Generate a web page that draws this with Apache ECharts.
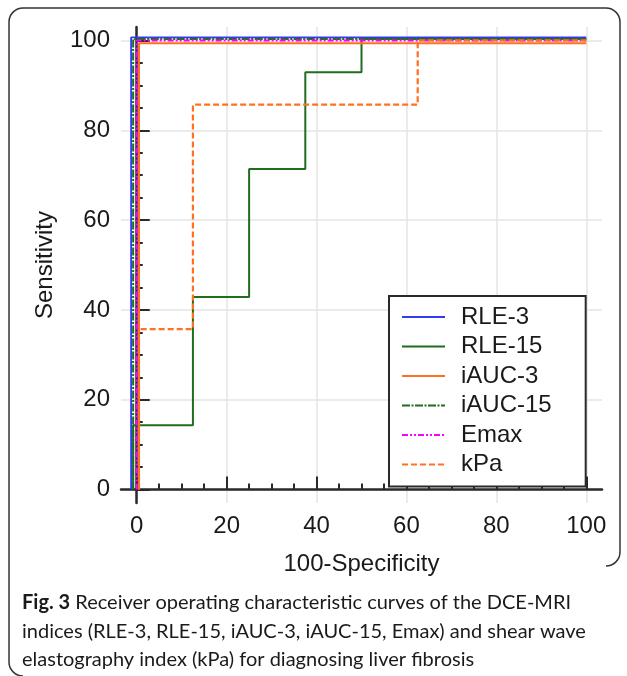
<!DOCTYPE html>
<html>
<head>
<meta charset="utf-8">
<script src="https://cdn.jsdelivr.net/npm/echarts@6/dist/echarts.min.js"></script>
<style>
  html, body { margin: 0; padding: 0; background: #fff; }
  #chart { width: 627px; height: 676px; }
</style>
</head>
<body>
<div id="chart"></div>
<script>
// ROC curve vertices [100-specificity, sensitivity]
// (the figure draws coincident curves slightly shifted so that they stay visible)
const rle3 = [[-1.25, 0], [-1.25, 100.7], [100, 100.7]];
const rle15 = [[-0.8, 0], [-0.8, 14.3], [12.5, 14.3], [12.5, 42.9], [25, 42.9], [25, 71.4],
    [37.5, 71.4], [37.5, 92.9], [50, 92.9], [50, 100.3], [100, 100.3]];
const iauc3 = [[0.5, 0], [0.5, 99.4], [100, 99.4]];
const iauc15 = [[-0.8, 0], [-0.8, 100.3], [100, 100.3]];
const emax = [[0, 0], [0, 100], [100, 100]];
const kpa = [[0.5, 0], [0.5, 35.7], [12.5, 35.7], [12.5, 85.7], [62.5, 85.7], [62.5, 100], [100, 100]];

const majorTicks = [0, 20, 40, 60, 80, 100];
const minorTicks = [5, 10, 15, 25, 30, 35, 45, 50, 55, 65, 70, 75, 85, 90, 95];

const caption = [
    '{b|Fig. 3} Receiver operating characteristic curves of the DCE-MRI',
    'indices (RLE-3, RLE-15, iAUC-3, iAUC-15, Emax) and shear wave',
    'elastography index (kPa) for diagnosing liver fibrosis',
];

const COLORS = {
    blue: '#2f3cf5',
    green: '#1f6e1f',
    orange: '#ff7020',
    magenta: '#ff00ff',
    axis: '#2a2a2a',
    grid: '#e4e4e4',
    text: '#1a1a1a',
    frame: '#333',
};
const FONT = '"Liberation Sans", Arial, sans-serif';
const CAPTION_FONT = 'Lato, sans-serif';

function majorAxis(min, max, extra) {
    return Object.assign({
        type: 'value', min, max,
        axisLine: { show: true, lineStyle: { color: COLORS.axis, width: 2.5 } },
        axisTick: { show: true, inside: true, length: 13, customValues: majorTicks, lineStyle: { color: COLORS.axis, width: 2 } },
        axisLabel: { customValues: majorTicks, color: COLORS.text, fontSize: 24, fontFamily: FONT, margin: 11 },
        splitLine: { show: true, lineStyle: { color: COLORS.grid, width: 1.5 } },
        nameLocation: 'middle',
        nameTextStyle: { color: COLORS.text, fontSize: 24, fontFamily: FONT },
    }, extra);
}

function minorAxis(min, max, extra) {
    return Object.assign({
        type: 'value', min, max,
        axisLine: { show: false },
        axisTick: { show: true, inside: true, length: 6, customValues: minorTicks, lineStyle: { color: COLORS.axis, width: 2 } },
        axisLabel: { show: false },
        splitLine: { show: false },
    }, extra);
}

function rocSeries(name, data, color, width, type) {
    return {
        name, type: 'line', data, symbol: 'none', animation: false,
        lineStyle: { color, width, type },
        itemStyle: { color, opacity: 0 },
    };
}

// figure frame: closed on top, open at the lower right beside the caption
const frameStyle = { fill: 'none', stroke: COLORS.frame, lineWidth: 1.5 };
const frameLine = (x1, y1, x2, y2) => ({ type: 'line', silent: true, shape: { x1, y1, x2, y2 }, style: frameStyle });
const frameArc = (cx, cy, a0, a1) => ({ type: 'arc', silent: true, shape: { cx, cy, r: 14, startAngle: a0, endAngle: a1, clockwise: true }, style: frameStyle });
const PI = Math.PI;

const chart = echarts.init(document.getElementById('chart'), null, { renderer: 'canvas' });
chart.setOption({
    backgroundColor: '#fff',
    textStyle: { fontFamily: FONT },
    animation: false,
    grid: { left: 121, right: 25, top: 27, bottom: 173 },
    xAxis: [
        majorAxis(-3.5, 103.5, { position: 'bottom', name: '100-Specificity', nameGap: 49 }),
        minorAxis(-3.5, 103.5, { position: 'bottom' }),
    ],
    yAxis: [
        majorAxis(-3, 103, { position: 'left', name: 'Sensitivity', nameGap: 64 }),
        minorAxis(-3, 103, { position: 'left' }),
    ],
    legend: {
        orient: 'vertical',
        left: 389, top: 296,
        padding: [9, 34, 10, 12],
        itemWidth: 43, itemHeight: 14, itemGap: 5.5,
        borderColor: COLORS.axis, borderWidth: 2,
        backgroundColor: '#fff',
        itemStyle: { opacity: 0 },
        textStyle: { color: COLORS.text, fontSize: 24, lineHeight: 24, fontFamily: FONT, padding: [0, 0, 0, 11] },
        data: ['RLE-3', 'RLE-15', 'iAUC-3', 'iAUC-15', 'Emax', 'kPa'],
    },
    series: [
        rocSeries('RLE-3', rle3, COLORS.blue, 1.8, 'solid'),
        rocSeries('iAUC-15', iauc15, COLORS.green, 2, [8, 1.5, 2, 1.5]),
        rocSeries('RLE-15', rle15, COLORS.green, 2, 'solid'),
        rocSeries('iAUC-3', iauc3, COLORS.orange, 2, 'solid'),
        rocSeries('Emax', emax, COLORS.magenta, 2, [6, 2, 2, 2, 2, 2]),
        rocSeries('kPa', kpa, COLORS.orange, 2.2, [6, 3]),
    ],
    graphic: [
        frameLine(9, 22, 9, 662),
        frameLine(23, 8, 606, 8),
        frameLine(620, 22, 620, 552),
        frameArc(23, 22, PI, 1.5 * PI),
        frameArc(606, 22, 1.5 * PI, 2 * PI),
        frameArc(606, 552, 0, 0.5 * PI),
        frameArc(23, 662, 0.5 * PI, PI),
        ...caption.map((line, i) => ({
            type: 'text', left: 22, top: 593 + i * 28.5,
            style: {
                text: line, fill: COLORS.text, fontSize: 20, fontFamily: CAPTION_FONT,
                rich: { b: { fontWeight: 'bold', fontSize: 20, fontFamily: CAPTION_FONT, fill: COLORS.text } },
            },
        })),
    ],
});
window.addEventListener('resize', () => chart.resize());
</script>
</body>
</html>
